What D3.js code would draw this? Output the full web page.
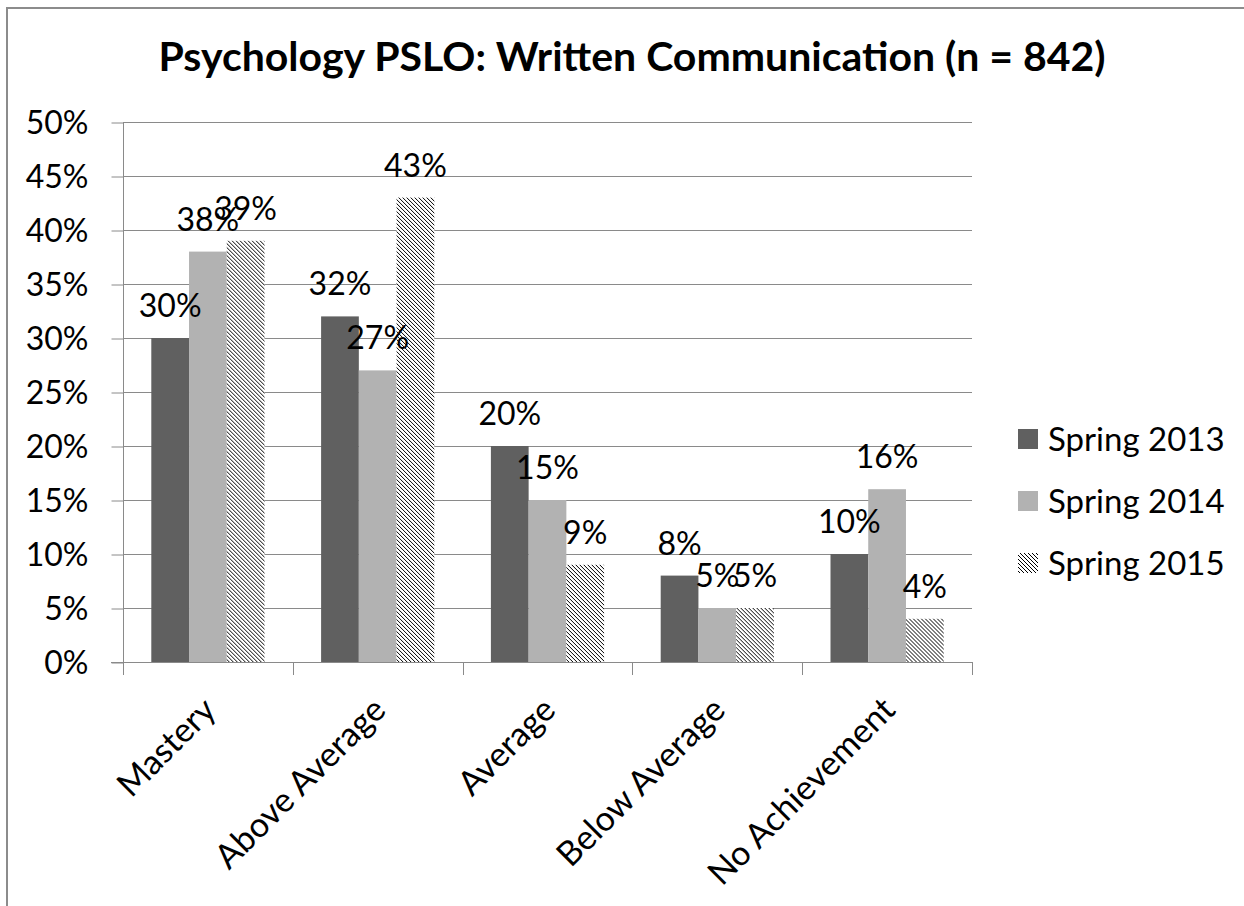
<!DOCTYPE html>
<html>
<head>
<meta charset="utf-8">
<script src="https://cdn.jsdelivr.net/npm/d3@7"></script>
<style>
  html, body { margin: 0; padding: 0; background: #fff; }
  svg { display: block; }
  text { font-family: Lato, "Open Sans", sans-serif; fill: #000; }
</style>
</head>
<body>
<svg id="chart" width="1244" height="906"></svg>
<script>
// Chart data
const categories = ["Mastery", "Above Average", "Average", "Below Average", "No Achievement"];
const seriesNames = ["Spring 2013", "Spring 2014", "Spring 2015"];
const spring2013 = [30, 32, 20, 8, 10];
const spring2014 = [38, 27, 15, 5, 16];
const spring2015 = [39, 43, 9, 5, 4];
const yTicks = [0, 5, 10, 15, 20, 25, 30, 35, 40, 45, 50];
const titleText = "Psychology PSLO: Written Communication (n = 842)";

const seriesValues = [spring2013, spring2014, spring2015];
const FONT = 32;

const svg = d3.select("#chart");

// Diagonal hatch fill for the third series
const defs = svg.append("defs");
const pat = defs.append("pattern")
  .attr("id", "hatch")
  .attr("patternUnits", "userSpaceOnUse")
  .attr("width", 4).attr("height", 4);
pat.append("rect").attr("width", 4).attr("height", 4).attr("fill", "#fff");
pat.append("path")
  .attr("d", "M-1,-1 L5,5 M-1,3 L1,5 M3,-1 L5,1")
  .attr("stroke", "#000").attr("stroke-width", 1);

const fills = ["#606060", "#b2b2b2", "url(#hatch)"];

// Outer frame
svg.append("rect")
  .attr("x", 7).attr("y", 8)
  .attr("width", 1400).attr("height", 1000)
  .attr("fill", "none").attr("stroke", "#8c8c8c").attr("stroke-width", 2);

// Title
svg.append("text")
  .attr("x", 632).attr("y", 71)
  .attr("text-anchor", "middle")
  .attr("font-weight", "bold")
  .attr("font-size", 41)
  .text(titleText);

const plot = { left: 123, right: 972, top: 122, bottom: 662 };

const x0 = d3.scaleBand()
  .domain(categories)
  .range([plot.left, plot.right])
  .paddingInner(0).paddingOuter(0);

const bw = x0.bandwidth() / 4.5;   // three bars plus a 150% gap
const x1 = d3.scaleBand()
  .domain(seriesNames)
  .range([0, bw * 3]);

const y = d3.scaleLinear().domain([0, 50]).range([plot.bottom, plot.top]);

// Horizontal gridlines
svg.append("g")
  .selectAll("line")
  .data(yTicks.filter(d => d > 0))
  .join("line")
  .attr("x1", plot.left).attr("x2", plot.right)
  .attr("y1", d => Math.round(y(d)) + 0.5).attr("y2", d => Math.round(y(d)) + 0.5)
  .attr("stroke", "#8a8a8a").attr("stroke-width", 1);

// Y axis
const yAxis = d3.axisLeft(y)
  .tickValues(yTicks)
  .tickFormat(d => d + "%")
  .tickSize(12)
  .tickPadding(23);
const gy = svg.append("g")
  .attr("transform", `translate(${plot.left + 0.5},0)`)
  .call(yAxis);
gy.select(".domain").attr("stroke", "#8a8a8a").attr("d", `M0,${plot.top}V${plot.bottom}`);
gy.selectAll(".tick line").attr("stroke", "#8a8a8a").attr("transform", "translate(0,0.5)");
gy.selectAll(".tick text")
  .attr("font-size", FONT)
  .attr("font-family", "Lato, 'Open Sans', sans-serif")
  .attr("fill", "#000")
  .attr("dy", "0.35em");

// Bars
const rows = (c, i) => seriesNames.map((s, j) => ({ s, j, v: seriesValues[j][i] }));
const groups = svg.append("g")
  .selectAll("g")
  .data(categories)
  .join("g")
  .attr("transform", d => `translate(${x0(d) + (x0.bandwidth() - bw * 3) / 2},0)`);

groups.selectAll("rect")
  .data(rows)
  .join("rect")
  .attr("x", d => x1(d.s))
  .attr("y", d => y(d.v))
  .attr("width", x1.bandwidth())
  .attr("height", d => y(0) - y(d.v))
  .attr("fill", d => fills[d.j]);

// Value labels
groups.selectAll("text.val")
  .data(rows)
  .join("text")
  .attr("class", "val")
  .attr("x", d => x1(d.s) + x1.bandwidth() / 2)
  .attr("y", d => y(d.v) - 21)
  .attr("text-anchor", "middle")
  .attr("font-size", FONT)
  .text(d => d.v + "%");

// X axis line
const xAxis = d3.axisBottom(x0).tickSize(0).tickFormat("");
const gx = svg.append("g")
  .attr("transform", `translate(0,${plot.bottom + 0.5})`)
  .call(xAxis);
gx.select(".domain").attr("stroke", "#8a8a8a").attr("d", `M${plot.left - 12},0H${plot.right}`);

// Category boundary ticks
const boundaries = categories.map(c => x0(c)).concat([plot.right]);
svg.append("g")
  .selectAll("line")
  .data(boundaries)
  .join("line")
  .attr("x1", d => Math.round(d) + 0.5).attr("x2", d => Math.round(d) + 0.5)
  .attr("y1", plot.bottom).attr("y2", plot.bottom + 13)
  .attr("stroke", "#8a8a8a");

// Rotated category labels
svg.append("g")
  .selectAll("text")
  .data(categories)
  .join("text")
  .attr("transform", d => `translate(${x0(d) + x0.bandwidth() / 2 + 10},${plot.bottom + 50}) rotate(-45)`)
  .attr("text-anchor", "end")
  .attr("font-size", 34)
  .text(d => d);

// Legend
const legend = svg.append("g").attr("transform", "translate(1018,439)");
const items = legend.selectAll("g")
  .data(seriesNames)
  .join("g")
  .attr("transform", (d, i) => `translate(0,${i * 62})`);
items.append("rect")
  .attr("x", 0).attr("y", -10)
  .attr("width", 20).attr("height", 20)
  .attr("fill", (d, i) => fills[i]);
items.append("text")
  .attr("x", 30).attr("y", 0)
  .attr("dy", "0.35em")
  .attr("font-size", 33)
  .text(d => d);
</script>
</body>
</html>
